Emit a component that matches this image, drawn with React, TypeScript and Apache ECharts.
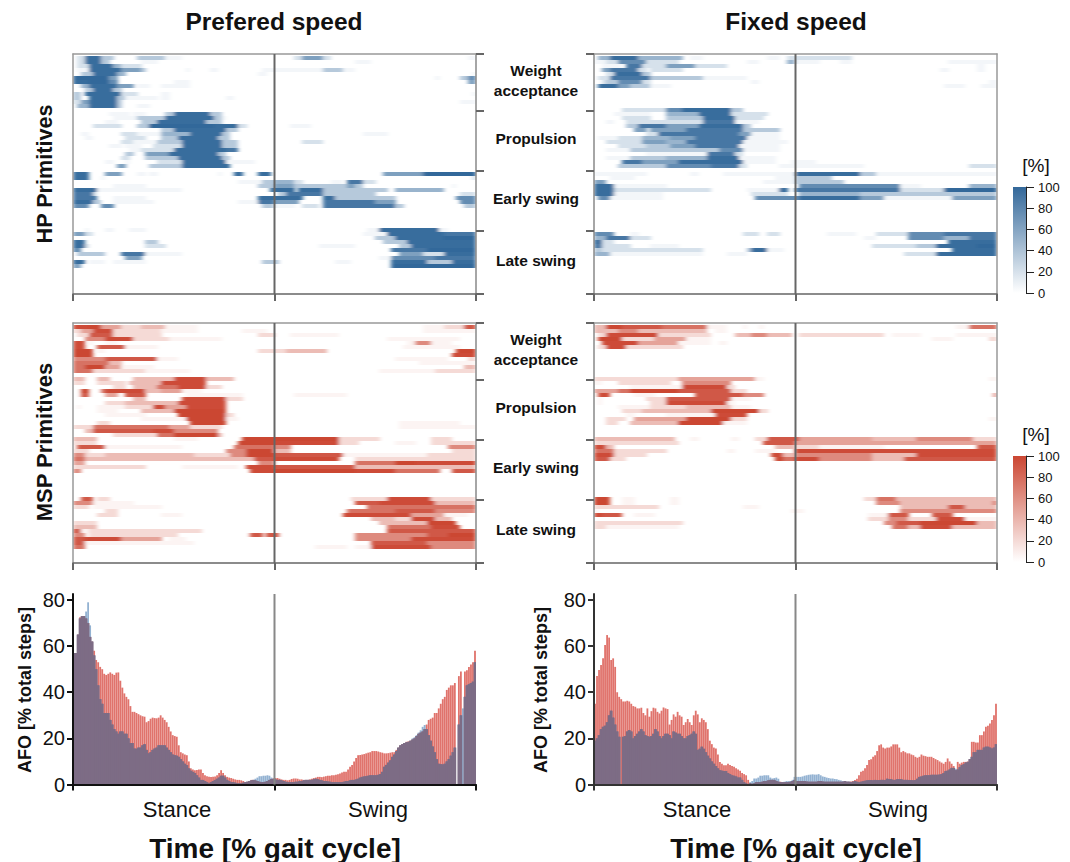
import React, { useEffect, useRef } from "react";
import * as echarts from "echarts";

const FONT = "'Liberation Sans', Arial, sans-serif";

// Heat rows: pairs of "start% level"; every row is one participant/step band.
const hpPreferred: string[] = [
  "1 2 3 8 7 3 10 0 16 3 23 1 27 0 55 2 57 5 62 2 64 0 98 1",
  "1 2 3 8 7 3 9 0 17 1 21 0 70 1 74 0",
  "1 2 4 8 10 4 12 2 17 0",
  "1 1 4 8 12 5 17 3 18 0 28 1 29 0 34 1 36 0 47 1 60 1 62 3 67 1 70 0",
  "2 3 5 8 11 4 13 0 46 1 48 0 99 1",
  "0 9 9 5 11 0 90 1 91 0 96 3 98 6",
  "0 8 4 9 9 6 11 0 25 1 29 0 98 5",
  "2 4 4 8 11 5 15 0 16 1 19 0 22 1 29 0",
  "3 3 5 8 10 3 12 0",
  "0 3 2 0 3 8 12 2 16 0 22 1 24 0 99 1",
  "0 3 2 0 4 8 11 3 13 1 21 0 22 1 24 0 38 1 40 0",
  "0 2 2 5 4 8 11 3 12 0 96 1",
  "1 4 4 8 11 3 12 0 16 1 19 0",
  "",
  "9 1 14 0 15 1 18 0 23 3 25 8 34 3 37 0",
  "10 1 16 3 23 8 35 3 37 1 38 0",
  "8 1 11 0 17 3 21 8 33 3 37 0",
  "5 2 12 0 16 3 19 9 35 8 41 2 43 0 54 1 59 0",
  "22 3 25 8 38 3 41 0",
  "2 1 4 0 12 2 16 1 22 4 29 8 37 3 39 0 72 1 78 0",
  "3 1 5 0 13 2 18 0 22 3 26 8 36 3 39 0",
  "12 2 15 1 21 3 27 8 37 3 41 0 57 2 62 0",
  "9 1 12 0 13 1 17 0 20 2 27 8 37 3 41 0",
  "14 1 17 2 25 8 38 7 41 0",
  "13 3 15 0 18 5 24 8 36 3 38 0",
  "12 2 14 0 18 3 26 8 37 3 39 0",
  "8 1 10 0 13 1 14 0 21 2 27 8 38 1 45 0",
  "11 5 13 0 19 3 27 8 39 0",
  "",
  "0 8 4 0 8 5 12 0 16 1 18 0 19 1 21 0 36 1 37 0 40 8 42 0 46 8 49 0 77 5 87 9",
  "0 8 4 0 7 1 8 0 99 2",
  "41 1 47 3 50 4 55 2 57 0 64 1 67 0 68 7 72 2 75 0",
  "10 1 18 0 46 3 50 5 55 3 68 5 70 3 72 0 94 1 95 0",
  "0 8 6 1 27 0 49 8 55 0 56 8 62 3 78 0 80 4 92 0",
  "0 7 5 2 6 0 51 3 53 7 62 3 75 0 96 2",
  "0 7 6 0 10 1 18 0 46 8 50 8 57 0 62 8 65 3 80 0 95 6",
  "0 8 5 3 7 0 10 1 20 0 41 1 46 7 50 5 56 0 62 7 75 5 80 0 96 6",
  "0 6 4 0 7 6 10 0 47 3 50 1 55 0 57 2 61 0 62 7 80 3 82 0 97 3",
  "", "", "", "", "",
  "3 1 4 0 8 1 10 0 14 1 18 0 73 1 76 8 91 1 93 0",
  "0 5 3 2 5 0 72 1 78 8 92 7",
  "75 3 80 8 92 9",
  "0 8 3 0 18 3 21 0 77 3 83 8",
  "0 8 3 2 4 0 18 2 23 0 61 1 70 0 81 3 84 8",
  "0 6 2 0 79 7 88 9",
  "1 3 8 0 12 7 18 1 27 0 81 5 87 2 92 8",
  "13 5 17 0 76 1 79 6 90 7",
  "0 8 3 0 4 1 8 0 10 1 18 0 47 3 51 0 65 1 69 0 79 8 88 3 94 8",
  "0 5 2 0 79 9",
];

const hpFixed: string[] = [
  "1 4 4 8 11 4 22 0 24 1 27 0 43 1 46 0 48 2 64 0",
  "0 1 3 2 6 6 13 2 21 0 38 1 41 0 48 4 50 1 56 0 61 1 64 0 88 1",
  "2 1 7 0 8 7 12 2 18 5 25 2 33 0 95 1 97 0",
  "2 5 4 7 11 2 13 0 14 2 22 0 86 1 88 0 95 1 97 0",
  "3 2 5 8 12 3 14 0",
  "1 2 4 7 14 3 27 1 38 0",
  "2 2 3 3 6 6 12 2 14 0 39 1 41 0 98 1",
  "1 8 6 5 9 3 14 1 19 0 87 1 92 0 96 1",
  "", "", "", "", "",
  "7 2 18 6 22 8 34 3 37 0",
  "5 1 14 0 18 4 26 8 34 2 43 0",
  "7 2 14 0 18 3 27 8 35 2 42 0",
  "3 1 5 0 8 2 17 2 27 7 35 1 41 0",
  "8 3 11 7 18 5 26 8 37 3 39 0",
  "10 5 13 0 14 5 23 7 37 3 46 0",
  "13 2 16 7 36 5 39 1 46 0",
  "1 1 6 2 12 4 19 5 25 7 38 1 46 0",
  "3 2 12 5 18 4 23 7 37 1 48 0",
  "6 2 13 3 19 5 25 7 36 1 46 0",
  "3 1 9 3 31 6 37 1 46 0",
  "13 1 28 7 35 2 37 0",
  "3 1 9 3 18 4 28 8 36 1 45 0",
  "7 7 12 5 21 8 37 1 45 0 49 1 55 0",
  "6 3 18 6 29 7 36 2 38 0 46 1 67 0 93 2",
  "",
  "0 1 13 0 24 1 26 0 32 1 50 8 66 3 70 1",
  "4 1 10 0 45 1 50 3 59 0",
  "0 5 3 0 42 1 50 3 62 0",
  "0 8 5 1 18 0 51 6 76 1 81 0 93 4",
  "0 8 5 2 29 0 38 1 46 8 48 0 50 7 76 2 87 9",
  "0 8 5 1 17 0 39 2 48 0 51 4 66 3",
  "1 6 4 1 17 0 40 6 51 8 66 5 72 1 89 5",
  "", "", "", "", "", "", "", "",
  "0 6 5 0 9 1 11 0 37 2 41 0 43 2 46 0 58 1 65 0 70 2 78 6 87 7",
  "0 4 3 7 9 2 14 0 67 1 70 0 78 6 87 4 93 7",
  "0 8 2 2 5 0 88 8",
  "0 7 2 2 9 0 14 1 21 0 69 2 80 3 85 8 95 9",
  "0 3 2 2 27 0 38 3 39 8 43 1 47 0 89 8",
  "0 4 4 1 27 0 33 1 38 0 77 2 85 8",
];

const mspPreferred: string[] = [
  "0 8 4 9 7 4 12 2 17 3 23 1 31 0 87 1 92 2 97 7",
  "0 2 2 4 5 8 10 2 22 1 31 0 42 1 48 0 87 1",
  "1 2 4 7 10 2 22 0 46 2 50 0 54 1 66 0",
  "3 5 8 8 15 2 24 1 37 0 78 1 96 0",
  "0 8 3 0 4 1 5 0 8 1 11 0 83 1 85 5 89 1 94 0",
  "0 8 3 0 6 7 13 1 21 0 82 1 96 0",
  "0 9 5 0 6 1 8 0 46 2 53 3 63 0 95 9",
  "0 9 5 0 94 8",
  "0 5 8 7 21 1 26 0 80 1 93 0 98 2",
  "0 6 9 3 12 0 86 1",
  "0 6 3 9 8 4 12 1 20 0 97 3",
  "0 6 5 2 18 1 29 0 76 1 90 2",
  "",
  "0 3 3 0 6 3 9 0 15 3 25 8 33 3 40 0",
  "0 2 3 0 6 2 13 0 14 3 22 8 33 0",
  "10 2 13 0 15 3 21 6 26 8 33 2 37 0",
  "2 9 4 0 7 6 8 8 18 3 22 4 27 1 32 0",
  "2 7 4 0 8 4 11 0 13 7 18 0 28 1 38 1 42 0 55 1 68 0",
  "15 3 18 0 27 8 38 2 42 0",
  "8 2 13 3 26 8 38 0",
  "1 1 2 0 6 1 13 2 20 8 23 4 28 8 38 0",
  "6 1 11 0 17 3 25 9 38 0",
  "8 1 18 0 26 9 38 2 40 0",
  "17 1 28 9 38 1 41 0",
  "6 2 9 0 29 9 38 0 81 1 96 0",
  "0 2 5 6 24 4 29 2 37 0 81 1",
  "3 3 5 7 20 8 25 5 36 0",
  "10 2 21 6 25 9 36 3 37 0",
  "0 3 6 0 25 1 31 0 42 9 50 9 66 2 76 0 89 2 94 0",
  "0 2 6 0 41 9 50 8 66 2 71 0 80 1 85 0 89 2",
  "1 7 8 1 27 0 40 6 50 5 54 0 93 5",
  "0 2 4 0 38 5 43 9 50 3 54 0 94 2",
  "0 5 3 2 8 3 30 2 39 5 43 9 50 7 67 1 88 2",
  "0 6 3 3 37 3 45 7 50 8 66 0 70 2",
  "0 4 3 0 46 5 50 0 70 6 80 9 85 8",
  "0 2 18 0 27 1 41 0 43 8 50 7 70 3",
  "0 5 2 0 44 8 50 9 70 8 80 6 91 0 94 7",
  "", "", "", "", "", "",
  "2 7 5 0 6 2 9 0 69 2 78 8 89 2",
  "0 5 5 1 15 0 70 7 76 8 90 3",
  "0 2 4 0 5 1 22 0 73 6 90 6",
  "8 2 11 0 68 6 80 7 90 5",
  "6 2 11 0 22 1 27 0 67 8 84 4 92 1 98 0",
  "74 3 80 2 84 8 90 3 94 0",
  "0 2 6 0 76 3 88 9 95 0",
  "0 3 6 0 78 6 89 8 96 0",
  "0 7 2 1 4 2 32 0 78 7",
  "0 5 3 0 4 2 26 0 44 7 47 0 48 7 51 0 70 5 88 7 93 9",
  "0 7 3 8 12 4 22 0 24 1 28 0 70 5 84 8",
  "0 7 3 1 30 0 74 7 88 5",
  "0 6 3 0 60 1 68 0 70 1 74 8 89 5",
];

const mspFixed: string[] = [
  "0 3 3 9 7 7 17 6 28 1 33 0 37 1 38 0 41 1 42 0 90 1 93 6",
  "0 3 6 5 11 3 28 0 30 1 33 0",
  "1 2 3 8 16 2 29 0 35 3 39 5 43 3 49 0 51 2 72 0 74 1 81 0 90 1",
  "1 9 7 2 15 4 23 1 29 0 84 1 89 0 98 2",
  "2 8 11 4 21 1 29 0 31 1 33 0",
  "1 2 3 8 8 2 22 0",
  "", "", "", "", "", "", "",
  "0 2 21 4 40 1 42 0 98 1",
  "0 1 2 0 6 2 19 0 22 5 34 0",
  "9 1 22 8 33 2 35 0",
  "0 4 6 6 9 9 21 7 34 2 38 0",
  "1 8 4 0 10 1 15 0 25 7 37 5 42 0 99 4",
  "1 1 2 0 13 2 18 7 34 1 39 0",
  "1 1 2 0 14 2 18 8 33 1 35 0",
  "6 1 14 2 23 3 34 1 39 0",
  "7 2 12 3 29 9 41 2 43 0",
  "8 1 10 0 18 1 30 8 38 0",
  "3 2 8 0 10 4 23 9 34 2 38 0 98 1",
  "3 2 6 0 9 3 21 9 32 1 38 0",
  "", "", "",
  "0 3 20 0 24 1 26 0 34 1 36 0 40 2 43 7 51 4 69 3 80 5 94 2",
  "0 2 21 0 42 7 50 4",
  "0 8 3 3 5 0 45 3 50 2 56 1 72 0 95 7",
  "0 6 5 2 18 0 33 1 35 0 40 1 45 0 50 8",
  "0 8 5 2 13 0 44 8 47 3 50 5 69 3 80 8",
  "0 7 4 2 8 0 45 9 47 6 50 8 56 5 69 3 77 7",
  "", "", "", "", "", "", "", "", "",
  "0 9 4 0 7 1 10 0 19 1 21 0 67 2 70 6 75 3",
  "0 9 4 0 7 1 10 0 19 1 21 0 70 5 76 3 99 6",
  "0 2 16 0 37 1 41 0 76 3 88 7 92 3",
  "0 1 1 0 49 1 52 0 76 5",
  "0 8 2 7 7 0 10 1 15 0 68 1 73 7 78 0 84 7 89 0",
  "68 2 73 5 78 2 85 8 92 1",
  "0 2 22 0 72 5 75 7 81 9 95 3",
  "0 2 3 1 21 0 74 6 78 3 81 8 89 3",
];

// Percent shown for each level digit used in the rows above.
const levelPercents = [0, 6, 20, 36, 50, 63, 76, 90, 97, 100];

// AFO histograms: 200 bins across the gait cycle.
const afoHpPreferred = [
  57,57,65,72,73,73,75,79,69,62,
  56,50,43,37,35,31,31,31,28,26,
  24,23,22,23,23,22,22,20,18,18,
  15.6,15.5,16,16,17,17.5,15,13.5,14,15,
  15.6,16,17,17,17,17,16,15,14,13,
  12.7,12.5,12,11,10,9,8.4,7,6,5.5,
  5,4,3,2,2,1.5,1,0.5,1,1.5,
  2,2.5,3,3.8,3.8,3,2,1.5,1,1,
  0.8,0.5,0.5,0.5,0.8,1,1.2,1.5,1.8,2,
  2.5,3,3.6,3.6,3.8,3.8,4,3.8,3,2.5,
  2.2,2,2,1.8,1.5,1.2,1,1,1,1,
  1.2,1.2,1.5,1.5,1.8,2,2,2,2,2.3,
  2.5,2.3,2,1.8,1.5,1.5,1.3,1.2,1,1,
  1,1,1,1,1.2,1.5,1.5,1.8,2,2,
  2.2,2.5,3,3.3,3.5,3.6,3.8,4,4,4,
  4,4.2,4.5,5.5,7.7,8.5,9.5,10.5,12,13,
  14.5,16,17,17.5,18,18.3,18.5,19,20,20.5,
  21.4,22.5,23.5,25,25.8,24,21.4,19,16.5,14,
  11,9,8.8,8.7,9,10,11,12.5,14,16,
  0,26,30,33,38,43,43.5,44,44.6,53,
];
const afoMspPreferred = [
  57,57,65,72.5,73,73,72,70,64,62,
  58,54,53,51,50,48,47.5,48,48.6,48,
  47.5,48.5,48.6,45,42,39.5,38,37,34,31.5,
  31.5,31,30.5,30,29.6,29.4,27,27.5,28.5,29,
  28.8,28.7,29,30,29,28,27,25,23,21.4,
  21,20.7,17,14,13.5,13,12.7,10,7,6.5,
  6.2,6.3,6.5,6.5,5,4,3.6,3.4,3.3,3.4,
  3.5,4,5,6.2,5,4,3.3,3,2.8,2.5,
  2.2,2,2,1.8,1.5,1,1.2,1.5,2,2,
  1.8,1.5,1.2,1,1,1.2,1.5,2,2.4,2.6,
  2.8,2.8,2.5,2.2,2,2,1.8,2,2.4,2.6,
  2.6,2.5,2.2,2.2,2,2,2,2.2,2.5,2.8,
  3,3.3,3.3,3.2,3.4,3.6,3.8,3.8,4,4,
  4.2,4.4,4.8,5.2,5.5,5.5,6.5,7.7,8.5,10,
  11.5,12.7,12.8,13,13.2,13.5,13.8,14,14.5,14.5,
  14.5,14.3,14,13.8,13.5,13.5,13.6,13.8,14,14,
  15,16,17,17.5,18,18.5,18.7,19,19.5,20,
  21,22,22.5,23,24,26,28,28.5,29,31,
  31,33,35,37,38,41,42,43,43,44,
  0,47,49,0,49,49.5,51,52,53,58,
];
const afoHpFixed = [
  19,20,21.4,24,25,25.5,27,30,32,29,
  26,23,20.7,0,20.7,21,23,23.6,23,20,
  21,22,23,24,23,21.4,21,20.7,21,22,
  24,23,21,20,21,22,22,21.4,20,23,
  22.5,22,22,21,20,20,21,21.4,22,23,
  22,15,15.5,16.4,15.5,14,12.5,11.3,10,9,
  8,7,6.2,6,5.8,5.8,5,4.5,4,3.8,
  3.5,3,3,2,1,0.5,0,1,1.5,2.6,
  2.6,3,3.8,3.8,4,4,4,3,2.6,2.8,
  3,2.5,1,1,1.2,1.5,1.5,1.5,2,3.3,
  3.3,3.3,3.3,3.5,3.8,4,4.2,4.3,4.4,4.3,
  4.3,4.5,4,3.5,3.3,3,2.8,2.6,2.6,2.4,
  2.3,2,1.8,1.5,1.5,1.3,1.3,1,1.2,1.5,
  1.2,1,1.2,1.4,1.6,1.8,1.9,1.9,1.8,2,
  1.9,1.9,2,2,1.9,2.5,2.3,2.3,2,2,
  2.3,2.3,2.3,2,2,2,1.9,1.9,1.8,1.9,
  2.5,3.3,3.5,3.8,4,4,4,4.2,4.2,4.2,
  4.2,4.3,4.5,5,5.8,6,6.5,7.2,7.2,6.8,
  6.5,7.5,8.4,8.8,9.5,9.8,11,12,14,14,
  15,15,15,16,16.4,16.4,16,15.6,16,17.5,
];
const afoMspFixed = [
  35,47,49.6,51.8,54.7,60.5,64.8,63.7,54,54.7,
  51,40,38,37,36,36,36.3,36,35,34,
  33.7,33,33,33.3,31,30,33,29.4,31.8,33.3,
  33,31.5,30.8,32,33.4,33,32.7,26,28,30.4,
  29.4,31.5,30,29.4,25.8,27,28.4,27,25.8,30,
  32,30.4,27,28.7,28,27,24,19,17.5,16,
  15.6,13,9.8,9,8.4,8.4,9,8.5,8,7.7,
  7,6.5,6,5,4.5,4,2,0.5,0.3,0.5,
  1,1,1,1.2,1.5,1.5,1.8,2,2,2,
  1.5,1.2,1.2,1,1,1,1,1.2,1.5,2,
  1.5,1.5,1.5,1.5,1.5,1.3,1.2,1.2,1.2,1.2,
  1.2,1.5,1.5,1.3,1.2,1.2,1.2,1.2,1.2,1.2,
  1.2,1.2,1.2,1.2,1.5,1.2,1.2,1.3,1.5,2,
  2.5,4,5.5,6,7,8.5,10.6,11,12,12.7,
  14.5,17,17.4,16,15.6,16,16,16.5,17.4,17.4,
  17.4,16,14,14.5,14,13.5,13.5,13,12.7,12,
  11.6,12,13,12.5,12.3,12,12,12,11.5,11,
  10.6,10,9.5,9,9.8,11.3,10,9,8,6.2,
  9.8,9,9.5,9.8,9.8,10,11,18.5,18.5,18.2,
  18.2,21.4,21.4,23,25,25.5,26.5,28,30,35,
];

const clusterTicks = [0, 57, 117, 177, 240];
const percentTicks = [0, 20, 40, 60, 80, 100];
const afoTicks = [0, 20, 40, 60, 80];
const gaitDivide = [[50, 0], [50, 240]];

const BLUE = "#33689a";
const RED = "#cb4632";

function parseRows(rows: string[]): number[][] {
  const out: number[][] = [];
  rows.forEach((row, r) => {
    if (!row) return;
    const t = row.split(" ").map(Number);
    for (let k = 0; k < t.length; k += 2) {
      const end = k + 2 < t.length ? t[k + 2] : 100;
      const level = levelPercents[t[k + 1]];
      if (level > 0) for (let c = t[k]; c < end; c++) out.push([c, r, level]);
    }
  });
  return out;
}

const colCats = Array.from({ length: 100 }, (_, i) => String(i));
const rowCats = Array.from({ length: 59 }, (_, i) => String(i));
const binCats = Array.from({ length: 200 }, (_, i) => String(i));
const none = { show: false };
const hidden = { axisLine: none, axisTick: none, axisLabel: none, splitLine: none };

function buildHeatOption() {
  const grid: any[] = [];
  const xAxis: any[] = [];
  const yAxis: any[] = [];
  const series: any[] = [];
  const heat = (left: number, top: number, rows: string[]) => {
    grid.push({ left, top: top + 2, width: 403, height: 236 });
    const g = grid.length - 1;
    xAxis.push({ type: "category", gridIndex: g, data: colCats, ...hidden });
    yAxis.push({ type: "category", gridIndex: g, data: rowCats, inverse: true, ...hidden });
    series.push({ type: "heatmap", xAxisIndex: g, yAxisIndex: g, data: parseRows(rows), progressive: 0 });
  };
  heat(73, 54, hpPreferred);
  heat(594, 54, hpFixed);
  heat(73, 323, mspPreferred);
  heat(594, 323, mspFixed);
  return {
    animation: false,
    grid, xAxis, yAxis, series,
    visualMap: [
      { type: "continuous", show: false, min: 0, max: 100, dimension: 2, seriesIndex: [0, 1], inRange: { color: ["#ffffff", BLUE] } },
      { type: "continuous", show: false, min: 0, max: 100, dimension: 2, seriesIndex: [2, 3], inRange: { color: ["#ffffff", RED] } },
    ],
  };
}

function buildOption() {
  const grid: any[] = [];
  const xAxis: any[] = [];
  const yAxis: any[] = [];
  const series: any[] = [];
  const graphic: any[] = [];

  const text = (t: string, x: number, y: number, size: number, bold: boolean, rotation = 0, lh = 0): any => ({
    type: "text", x, y, rotation, z: 20,
    style: {
      text: t, fontFamily: FONT, fontSize: size, fontWeight: bold ? "bold" : "normal", fill: "#111",
      textAlign: "center", textVerticalAlign: "middle", verticalAlign: "middle", lineHeight: lh || undefined,
    },
  });

  const frame = (left: number, top: number, side: "left" | "right", ticks: number[]) => {
    grid.push({ left, top, width: 403, height: 240 });
    const g = grid.length - 1;
    const dark = { lineStyle: { color: "#666", width: 2 } };
    xAxis.push({
      type: "value", gridIndex: g, min: 0, max: 100, interval: 50, position: "bottom", z: 5,
      axisLine: { show: true, onZero: false, lineStyle: { color: "#666", width: 1.5 } },
      axisTick: { show: true, length: 7, ...dark }, axisLabel: none, splitLine: none,
    });
    const xi = xAxis.length - 1;
    xAxis.push({
      type: "value", gridIndex: g, min: 0, max: 100, position: "top", z: 5,
      axisLine: { show: true, onZero: false, lineStyle: { color: "#999", width: 1.5 } }, axisTick: none, axisLabel: none, splitLine: none,
    });
    yAxis.push({
      type: "value", gridIndex: g, min: 0, max: 240, inverse: true, position: side, z: 5,
      axisLine: { show: true, onZero: false, lineStyle: { color: "#888", width: 1.5 } },
      axisTick: { show: true, length: 8, customValues: ticks, ...dark }, axisLabel: none, splitLine: none,
    });
    const yi = yAxis.length - 1;
    yAxis.push({
      type: "value", gridIndex: g, min: 0, max: 240, inverse: true, position: side === "left" ? "right" : "left", z: 5,
      axisLine: { show: true, onZero: false, lineStyle: { color: "#999", width: 1.5 } }, axisTick: none, axisLabel: none, splitLine: none,
    });
    series.push({
      type: "line", xAxisIndex: xi, yAxisIndex: yi, data: gaitDivide, symbol: "none", z: 6, silent: true,
      lineStyle: { color: "#666", width: 2 },
    });
  };

  const afo = (left: number, red: number[], blue: number[], axisColor: string) => {
    grid.push({ left, top: 594, width: 403, height: 190.5 });
    const g = grid.length - 1;
    const xRed = xAxis.push({ type: "category", gridIndex: g, data: binCats, show: false }) - 1;
    const xBlue = xAxis.push({ type: "category", gridIndex: g, data: binCats, show: false }) - 1;
    const xBoth = xAxis.push({ type: "category", gridIndex: g, data: binCats, show: false }) - 1;
    const xv = xAxis.push({
      type: "value", gridIndex: g, min: 0, max: 100, interval: 50, position: "bottom", z: 5,
      axisLine: { show: true, onZero: false, lineStyle: { color: axisColor, width: 2 } },
      axisTick: { show: true, length: 6, lineStyle: { color: axisColor, width: 2 } },
      axisLabel: none, splitLine: none,
    }) - 1;
    const yi = yAxis.push({
      type: "value", gridIndex: g, min: 0, max: 82.6, position: "left", z: 5,
      axisLine: { show: true, onZero: false, lineStyle: { color: axisColor, width: 2 } },
      axisTick: { show: true, length: 6, customValues: afoTicks, lineStyle: { color: axisColor, width: 2 } },
      axisLabel: { show: true, customValues: afoTicks, margin: 8, fontFamily: FONT, fontSize: 20, color: "#111" },
      splitLine: none,
    }) - 1;
    series.push({
      type: "bar", xAxisIndex: xRed, yAxisIndex: yi, data: red, barWidth: "90%", z: 2,
      itemStyle: { color: "rgba(211,55,45,0.7)" },
    });
    series.push({
      type: "bar", xAxisIndex: xBlue, yAxisIndex: yi, data: blue, barWidth: "90%", z: 3,
      itemStyle: { color: "rgba(39,101,165,0.5)" },
    });
    // where both series overlap the blend reads as one solid colour
    series.push({
      type: "bar", xAxisIndex: xBoth, yAxisIndex: yi, data: red.map((v, i) => Math.min(v, blue[i])), barWidth: 2.8, z: 4,
      itemStyle: { color: "#7d6c85" },
    });
    series.push({
      type: "line", xAxisIndex: xv, yAxisIndex: yi, data: [[50, 0], [50, 82.6]], symbol: "none", z: 6, silent: true,
      lineStyle: { color: "#888", width: 2 },
    });
  };

  const colorbar = (top: number, color: string) => {
    grid.push({ left: 1013, top, width: 13, height: 106 });
    const g = grid.length - 1;
    xAxis.push({ type: "value", gridIndex: g, min: 0, max: 1, ...hidden });
    yAxis.push({
      type: "value", gridIndex: g, min: 0, max: 100, position: "right",
      axisLine: { show: true, onZero: false, lineStyle: { color: "#222", width: 1 } },
      axisTick: { show: true, length: 8, customValues: percentTicks, lineStyle: { color: "#222", width: 1 } },
      axisLabel: { show: true, customValues: percentTicks, margin: 12, fontFamily: FONT, fontSize: 13, color: "#111" },
      splitLine: none,
    });
    series.push({ type: "line", xAxisIndex: xAxis.length - 1, yAxisIndex: yAxis.length - 1, data: [], symbol: "none" });
    graphic.push({
      type: "rect", shape: { x: 1013, y: top, width: 13, height: 106 }, z: 1,
      style: {
        fill: {
          type: "linear", x: 0, y: 0, x2: 0, y2: 1,
          colorStops: [{ offset: 0, color }, { offset: 1, color: "#ffffff" }],
        },
      },
    });
    graphic.push(text("[%]", 1036, top - 22, 19, false));
  };

  frame(73, 54, "right", clusterTicks);
  frame(594, 54, "left", clusterTicks);
  frame(73, 323, "right", clusterTicks);
  frame(594, 323, "left", clusterTicks);

  afo(73, afoMspPreferred, afoHpPreferred, "#111");
  afo(594, afoMspFixed, afoHpFixed, "#333");

  colorbar(187, BLUE);
  colorbar(456, RED);

  const labels: [string, number][] = [
    ["Weight\nacceptance", 80], ["Propulsion", 138.5], ["Early swing", 198.5], ["Late swing", 260.5],
    ["Weight\nacceptance", 349], ["Propulsion", 407.5], ["Early swing", 467.5], ["Late swing", 529.5],
  ];
  labels.forEach(([t, y]) => graphic.push(text(t, 536, y, 15.5, true, 0, 20)));

  graphic.push(text("Prefered speed", 274, 21.5, 24.5, true));
  graphic.push(text("Fixed speed", 796, 21.5, 24.5, true));
  graphic.push(text("HP Primitives", 44, 174, 21.6, true, Math.PI / 2));
  graphic.push(text("MSP Primitives", 44, 442, 22, true, Math.PI / 2));
  graphic.push(text("AFO [% total steps]", 25, 690, 18, true, Math.PI / 2));
  graphic.push(text("AFO [% total steps]", 541, 690, 18, true, Math.PI / 2));
  graphic.push(text("Stance", 177, 809, 22, false));
  graphic.push(text("Swing", 378, 809, 22, false));
  graphic.push(text("Stance", 697, 809, 22, false));
  graphic.push(text("Swing", 898, 809, 22, false));
  graphic.push(text("Time [% gait cycle]", 275, 848, 28, true));
  graphic.push(text("Time [% gait cycle]", 796, 848, 28, true));

  return { animation: false, grid, xAxis, yAxis, series, graphic };
}

const panelClip = "M73 54H476V294H73Z M594 54H997V294H594Z M73 323H476V563H73Z M594 323H997V563H594Z";

export default function App() {
  const heatRef = useRef<HTMLDivElement>(null);
  const ref = useRef<HTMLDivElement>(null);
  useEffect(() => {
    const heatChart = echarts.init(heatRef.current!, null, { renderer: "svg" });
    heatChart.setOption(buildHeatOption() as any);
    const chart = echarts.init(ref.current!, null, { renderer: "svg" });
    chart.setOption(buildOption() as any);
    return () => {
      heatChart.dispose();
      chart.dispose();
    };
  }, []);
  const box = { position: "absolute", left: 0, top: 0, width: 1070, height: 862 } as const;
  return (
    <>
      <style>{".heat-layer svg path{shape-rendering:crispEdges}"}</style>
      <svg width="0" height="0" style={{ position: "absolute" }}>
        <filter id="streak" x="0" y="0" width="100%" height="100%">
          <feGaussianBlur stdDeviation="2 0.5" />
        </filter>
      </svg>
      <div style={{ ...box, clipPath: `path('${panelClip}')` }}>
        <div ref={heatRef} className="heat-layer" style={{ ...box, filter: "url(#streak)" }} />
      </div>
      <div ref={ref} style={box} />
    </>
  );
}
